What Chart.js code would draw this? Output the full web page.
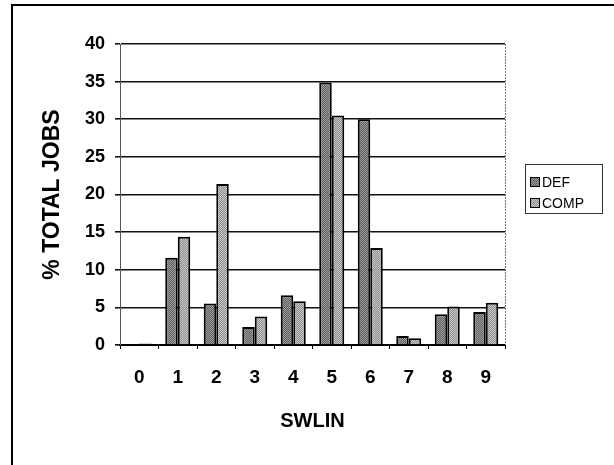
<!DOCTYPE html>
<html>
<head>
<meta charset="utf-8">
<script src="https://cdn.jsdelivr.net/npm/chart.js@4.4.1/dist/chart.umd.min.js"></script>
<style>
  html, body { margin: 0; padding: 0; background: #fff; }
  #myChart { display: block; }
</style>
</head>
<body>
<canvas id="myChart" width="614" height="465"></canvas>
<script>
const swlin = ['0', '1', '2', '3', '4', '5', '6', '7', '8', '9'];
const defJobs = [0, 11.6, 5.5, 2.4, 6.6, 34.9, 30.0, 1.2, 4.1, 4.4];
const compJobs = [0.2, 14.4, 21.4, 3.8, 5.8, 30.5, 12.9, 0.9, 5.1, 5.6];
const yTicks = { min: 0, max: 40, step: 5 };

const fontFamily = '"Liberation Sans", Arial, sans-serif';

// little dithered fill, like the old printout
function makePattern(c1, c2) {
    let p = document.createElement('canvas');
    p.width = 2;
    p.height = 2;
    let ctx = p.getContext('2d');
    ctx.fillStyle = c1;
    ctx.fillRect(0, 0, 2, 2);
    ctx.fillStyle = c2;
    ctx.fillRect(0, 0, 1, 1);
    ctx.fillRect(1, 1, 1, 1);
    return ctx.createPattern(p, 'repeat');
}

const defFill = makePattern('#5e5e5e', '#9c9c9c');
const compFill = makePattern('#8e8e8e', '#c8c8c8');

// outer frame, plot edges and the boxed legend
const decorations = {
    id: 'decorations',
    beforeDraw(chart) {
        let ctx = chart.ctx;
        ctx.save();
        ctx.strokeStyle = '#000';
        ctx.lineWidth = 2;
        ctx.beginPath();
        ctx.moveTo(12, 465);
        ctx.lineTo(12, 5);
        ctx.lineTo(614, 5);
        ctx.stroke();
        ctx.restore();
    },
    afterDraw(chart) {
        let ctx = chart.ctx;
        let area = chart.chartArea;
        ctx.save();
        ctx.strokeStyle = '#777';
        ctx.lineWidth = 1;
        ctx.setLineDash([2, 1]);
        ctx.beginPath();
        ctx.moveTo(area.right + 0.5, area.top);
        ctx.lineTo(area.right + 0.5, area.bottom);
        ctx.stroke();
        ctx.setLineDash([]);

        // legend
        ctx.strokeStyle = '#333';
        ctx.strokeRect(525.5, 164.5, 77, 49);
        ctx.font = '14px ' + fontFamily;
        ctx.textBaseline = 'middle';
        ctx.textAlign = 'left';
        let rows = [182, 203];
        chart.data.datasets.forEach((ds, i) => {
            ctx.fillStyle = ds.backgroundColor;
            ctx.fillRect(530, rows[i] - 5, 10, 10);
            ctx.strokeStyle = '#000';
            ctx.lineWidth = 1;
            ctx.strokeRect(530.5, rows[i] - 4.5, 9, 9);
            ctx.fillStyle = '#000';
            ctx.fillText(ds.label, 542, rows[i] + 1);
        });
        ctx.restore();
    }
};

const chart = new Chart('myChart', {
    type: 'bar',
    data: {
        labels: swlin,
        datasets: [{
            label: 'DEF',
            data: defJobs,
            backgroundColor: defFill,
            borderColor: '#000',
            borderWidth: 2
        }, {
            label: 'COMP',
            data: compJobs,
            backgroundColor: compFill,
            borderColor: '#000',
            borderWidth: 2
        }]
    },
    options: {
        responsive: false,
        devicePixelRatio: 1,
        animation: false,
        categoryPercentage: 0.65,
        barPercentage: 1.0,
        layout: { padding: { left: 0, top: 44, right: 109, bottom: 0 } },
        plugins: {
            legend: { display: false },
            tooltip: { enabled: false }
        },
        scales: {
            x: {
                afterFit(scale) { scale.height = 120; },
                grid: {
                    drawOnChartArea: false,
                    drawTicks: true,
                    tickLength: 4,
                    color: '#000',
                    lineWidth: 1
                },
                border: { color: '#000', width: 2 },
                ticks: {
                    color: '#000',
                    padding: 17,
                    font: { family: fontFamily, size: 19, weight: 'bold' }
                },
                title: {
                    display: true,
                    text: 'SWLIN',
                    color: '#000',
                    padding: { top: 0, bottom: 32 },
                    font: { family: fontFamily, size: 20, weight: 'bold' }
                }
            },
            y: {
                min: yTicks.min,
                max: yTicks.max,
                afterFit(scale) { scale.width = 120; },
                grid: {
                    color: '#111',
                    lineWidth: 1.6,
                    drawTicks: true,
                    tickLength: 5
                },
                border: { color: '#555', width: 1 },
                ticks: {
                    stepSize: yTicks.step,
                    color: '#000',
                    padding: 10,
                    font: { family: fontFamily, size: 18, weight: 'bold' }
                },
                title: {
                    display: true,
                    text: '% TOTAL JOBS',
                    color: '#000',
                    padding: { top: 39, bottom: 0 },
                    font: { family: fontFamily, size: 23, weight: 'bold' }
                }
            }
        }
    },
    plugins: [decorations]
});
</script>
</body>
</html>
